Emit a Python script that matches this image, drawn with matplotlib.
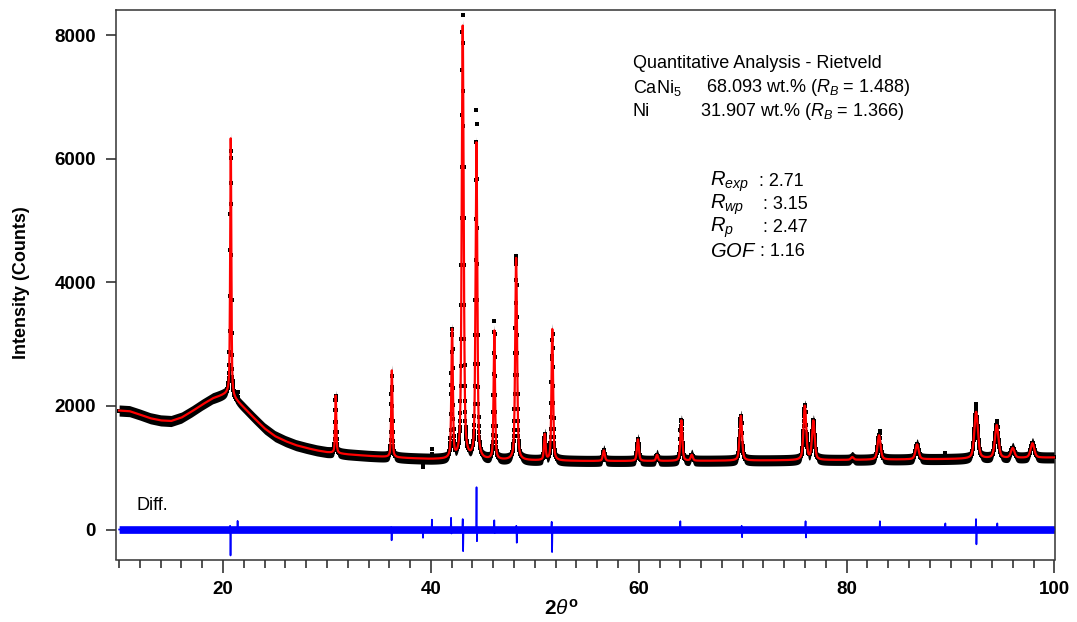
import numpy as np
import matplotlib
matplotlib.use("Agg")
import matplotlib.pyplot as plt

# ---------------- data ----------------
# refined background (counts) at selected 2-theta knots
bg_x = [10, 11, 12, 13, 14, 15, 16, 17, 18, 19, 20, 20.6, 21, 22, 23, 24, 25, 26,
        27, 28, 29, 30, 32, 34, 36, 38, 40, 45, 50, 55, 60, 65, 70, 75, 80, 85,
        90, 95, 100]
bg_y = [1925, 1915, 1860, 1800, 1765, 1755, 1810, 1910, 2020, 2120, 2175, 2205,
        2130, 1970, 1800, 1635, 1510, 1430, 1365, 1320, 1280, 1250, 1215, 1190,
        1170, 1152, 1138, 1125, 1115, 1108, 1108, 1110, 1115, 1120, 1125, 1132,
        1140, 1150, 1165]

# Bragg reflections: position (deg 2-theta), net height (counts), FWHM (deg)
peak_pos = [20.74, 30.84, 36.24, 42.04, 43.06, 44.38, 46.10, 48.20, 50.96,
            51.68, 56.64, 59.92, 61.76, 64.10, 65.10, 69.82, 75.98, 76.80,
            80.54, 83.12, 86.78, 92.46, 94.44, 95.98, 97.88]
peak_height = [4150, 930, 1405, 2070, 7000, 5110, 2080, 3270, 415,
               2125, 170, 350, 97, 656, 95, 725, 875, 630,
               45, 394, 241, 756, 537, 160, 235]
peak_fwhm = [0.13, 0.13, 0.14, 0.17, 0.22, 0.20, 0.16, 0.21, 0.18,
             0.18, 0.22, 0.22, 0.22, 0.22, 0.24, 0.27, 0.30, 0.30,
             0.30, 0.34, 0.36, 0.40, 0.40, 0.40, 0.42]

# difference curve (obs - calc): spike positions with upper / lower excursions
diff_x = [20.68, 21.40, 36.18, 39.20, 40.10, 41.94, 43.06, 44.39, 46.10,
          48.22, 51.62, 64.00, 69.90, 76.05, 83.20, 89.50, 92.45, 94.50]
diff_up = [60, 140, 40, 0, 160, 190, 170, 685, 150,
           60, 125, 135, 60, 135, 135, 100, 170, 100]
diff_down = [-420, 0, -175, -135, -20, -65, -350, -190, -60,
             -215, -365, -40, -125, -130, -40, -30, -240, -30]
obs_scatter = 90    # half-thickness of the counting-noise band of the data (counts)
diff_scatter = 62   # half-thickness of the noise band of the difference curve

x_ticks = [20, 40, 60, 80, 100]
y_ticks = [0, 2000, 4000, 6000, 8000]

# ---------------- build profile ----------------
two_theta = np.round(np.arange(10, 100.0001, 0.02), 2)
calc = np.interp(two_theta, bg_x, bg_y).astype(float)
for p, h, w in zip(peak_pos, peak_height, peak_fwhm):
    d = (two_theta - p) / w
    calc += h * (0.5 / (1 + 4 * d ** 2) + 0.5 * np.exp(-4 * np.log(2) * d ** 2))

dvx, dvy = [10.0], [0.0]
for s, u, dn in zip(diff_x, diff_up, diff_down):
    dvx += [s - 0.04, s, s + 0.04, s + 0.08]
    dvy += [0, u, dn, 0]
dvx.append(100.0)
dvy.append(0.0)
diff = np.interp(two_theta, dvx, dvy)
obs = calc + diff

# ---------------- figure ----------------
plt.rcParams["font.family"] = ["Liberation Sans", "DejaVu Sans"]
plt.rcParams["mathtext.fontset"] = "custom"
plt.rcParams["mathtext.rm"] = "Liberation Sans"
plt.rcParams["mathtext.it"] = "Liberation Sans:italic"
plt.rcParams["mathtext.bf"] = "Liberation Sans:bold"

W, H = 1077, 622
fig = plt.figure(figsize=(W / 100, H / 100), dpi=100)
L, R, T, B = 116, 1055, 10, 559.5
ax = fig.add_axes([L / W, 1 - B / H, (R - L) / W, (B - T) / H])

ax.fill_between(two_theta, calc - obs_scatter, calc + obs_scatter,
                color="black", lw=0, zorder=2)
ax.plot(two_theta, obs, "s", ms=3.4, mew=0, color="black", zorder=3)
ax.plot(two_theta, calc, color="#ff0000", lw=1.6, zorder=4)
ax.fill_between(two_theta, -diff_scatter, diff_scatter, color="#0000ff",
                lw=0, zorder=2)
ax.plot(dvx, dvy, color="#0000ff", lw=1.2, zorder=3)

ax.set_xlim(9.7, 100.05)
ax.set_ylim(-485, 8405)
ax.set_xticks(x_ticks)
ax.set_xticks(np.arange(10, 101, 2), minor=True)
ax.set_yticks(y_ticks)
for t in ax.get_xticklabels() + ax.get_yticklabels():
    t.set_fontweight("bold")
ax.tick_params(axis="x", which="major", direction="out", length=9.5, width=1.1,
               labelsize=13.5, pad=6, color="#222222")
ax.tick_params(axis="x", which="minor", direction="out", length=5.5, width=1.1,
               color="#222222")
ax.tick_params(axis="y", which="major", direction="out", length=7.5, width=1.1,
               labelsize=13.5, pad=7, color="#222222")
for sp in ax.spines.values():
    sp.set_linewidth(1.1)
    sp.set_color("#333333")


def fx(px):
    return px / W


def fy(py):
    return 1 - py / H


fig.text(fx(22), fy(283), "Intensity (Counts)", rotation=90, ha="center",
         va="center", fontsize=13, fontweight="bold")
fig.text(fx(561), fy(609), r"$\mathbf{2}\mathit{\theta}^{\mathbf{o}}$",
         ha="center", va="center", fontsize=15)

fs = 13
fig.text(fx(633), fy(64), "Quantitative Analysis - Rietveld", fontsize=fs,
         va="center")
fig.text(fx(633), fy(88), r"CaNi$_5$", fontsize=fs, va="center")
fig.text(fx(706), fy(88), r"68.093 wt.% ($R_B$ = 1.488)", fontsize=fs,
         va="center")
fig.text(fx(633), fy(112), "Ni", fontsize=fs, va="center")
fig.text(fx(700), fy(112), r"31.907 wt.% ($R_B$ = 1.366)", fontsize=fs,
         va="center")

stats = [(r"$R_{exp}$", ": 2.71", 182, 759),
         (r"$R_{wp}$", ": 3.15", 205, 763),
         (r"$R_{p}$", ": 2.47", 228, 763),
         (r"$GOF$", ": 1.16", 252, 760)]
for lab, val, py, cx in stats:
    fig.text(fx(710), fy(py), lab, fontsize=14.5, va="center")
    fig.text(fx(cx), fy(py), val, fontsize=fs, va="center")

fig.text(fx(137), fy(506), "Diff.", fontsize=13, va="center")

fig.savefig("out.png", dpi=100)
